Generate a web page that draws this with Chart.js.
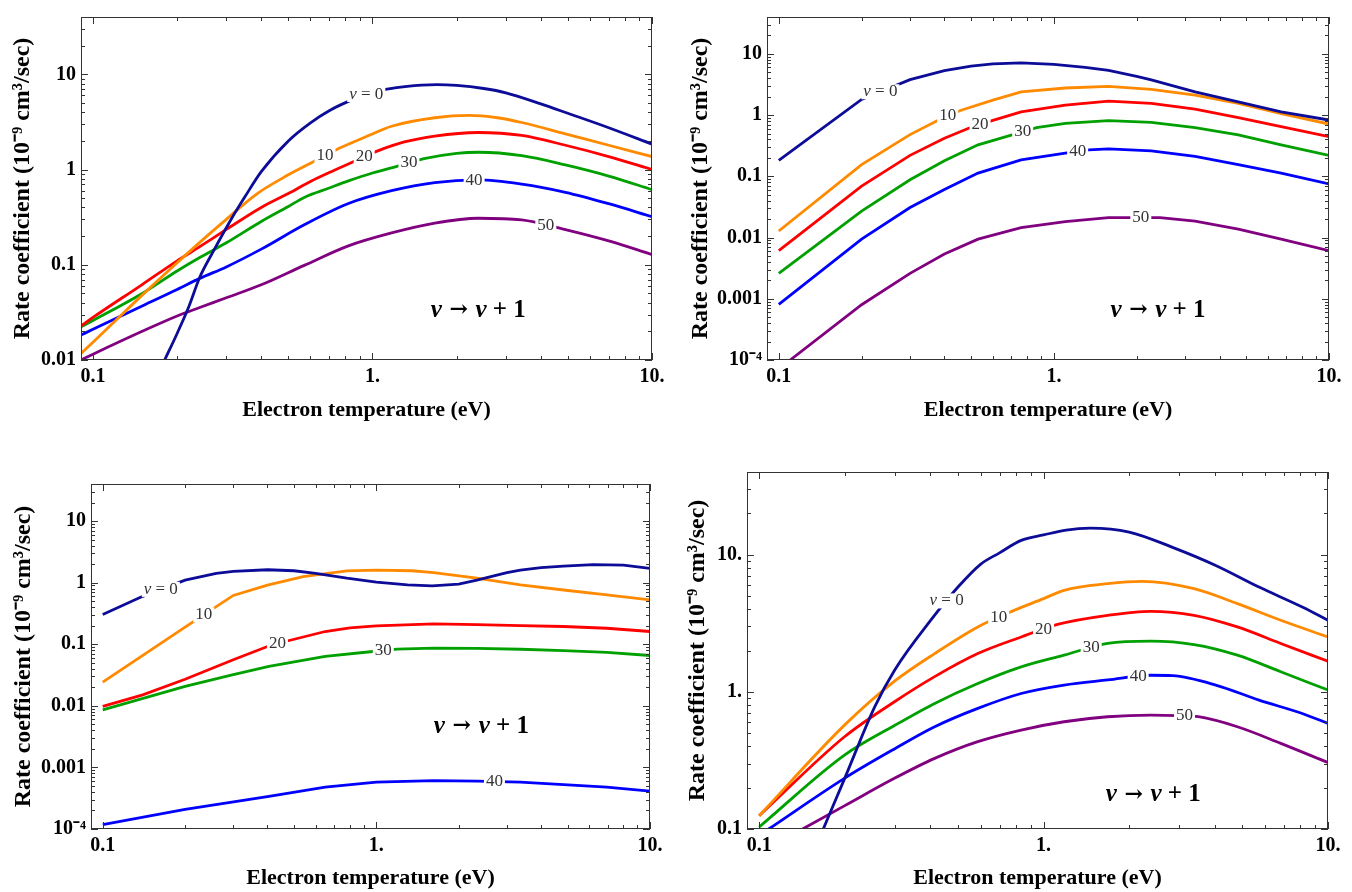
<!DOCTYPE html>
<html><head><meta charset="utf-8">
<script src="https://cdn.jsdelivr.net/npm/chart.js@4.4.1/dist/chart.umd.min.js"></script>
<style>
html,body{margin:0;padding:0;background:#fff;}
body{width:1352px;height:892px;position:relative;overflow:hidden;}
.pane{position:absolute;width:676px;height:446px;}
canvas{display:block;}
</style></head><body>
<div class="pane" style="left:0;top:0"><canvas id="c1" width="676" height="446"></canvas></div>
<div class="pane" style="left:676px;top:0"><canvas id="c2" width="676" height="446"></canvas></div>
<div class="pane" style="left:0;top:446px"><canvas id="c3" width="676" height="446"></canvas></div>
<div class="pane" style="left:676px;top:446px"><canvas id="c4" width="676" height="446"></canvas></div>
<script>
// ---------- tick labels ----------
const xTickValues = [0.1, 1, 10];
const xTickLabels = ['0.1', '1.', '10.'];
const yTicksA = [0.01, 0.1, 1, 10];
const yLabelsA = ['0.01', '0.1', '1', '10'];
const yTicksB = [1e-4, 1e-3, 0.01, 0.1, 1, 10];
const yLabelsB = ['10\u207B\u2074', '0.001', '0.01', '0.1', '1', '10'];
const yTicksC = [0.1, 1, 10];
const yLabelsC = ['0.1', '1.', '10.'];
const curveNames = ['v = 0', '10', '20', '30', '40', '50'];
const xTitle = 'Electron temperature (eV)';
const yTitle = 'Rate coefficient (10\u207B\u2079 cm\u00B3/sec)';

// ---------- panel 1 (top left): [T (eV), k] ----------
const p1_v0 = [[0.1805,0.01],[0.2,0.019],[0.22,0.036],[0.241,0.074],[0.27,0.14],[0.31,0.29],[0.35,0.52],[0.4,0.95],[0.5,2.0],[0.6,3.1],[0.7,4.15],[0.82,5.2],[1.0,6.5],[1.2,7.2],[1.5,7.7],[1.7,7.8],[2.0,7.65],[2.5,7.1],[3.0,6.4],[4.0,4.9],[5.0,3.9],[7.0,2.75],[10,1.85]];
const p1_v10 = [[0.0906,0.0117],[0.1,0.0154],[0.12,0.0257],[0.15,0.048],[0.2,0.105],[0.241,0.172],[0.3,0.3],[0.384,0.55],[0.5,0.88],[0.612,1.2],[0.76,1.67],[0.95,2.22],[1.17,2.85],[1.67,3.5],[2.22,3.71],[2.8,3.5],[3.42,3.12],[4.9,2.37],[7.0,1.8],[10,1.37]];
const p1_v20 = [[0.0906,0.0228],[0.1,0.028],[0.15,0.062],[0.2,0.11],[0.241,0.155],[0.3,0.235],[0.4,0.4],[0.5,0.56],[0.6,0.75],[0.7,0.93],[0.85,1.2],[1.05,1.58],[1.3,1.95],[1.67,2.25],[2.39,2.45],[3.42,2.28],[4.9,1.8],[7.0,1.37],[10,1.0]];
const p1_v30 = [[0.0906,0.0223],[0.1,0.026],[0.15,0.05],[0.2,0.086],[0.241,0.119],[0.3,0.17],[0.4,0.285],[0.5,0.41],[0.57,0.51],[0.7,0.64],[0.82,0.76],[1.0,0.92],[1.25,1.1],[1.53,1.3],[2.0,1.48],[2.4,1.52],[3.42,1.4],[4.9,1.12],[7.0,0.855],[10,0.615]];
const p1_v40 = [[0.0906,0.0183],[0.1,0.021],[0.15,0.037],[0.2,0.055],[0.241,0.072],[0.3,0.095],[0.4,0.146],[0.57,0.263],[0.82,0.44],[1.17,0.6],[1.67,0.73],[2.39,0.778],[3.42,0.703],[4.9,0.577],[7.0,0.438],[10,0.32]];
const p1_v50 = [[0.0906,0.01],[0.1,0.0115],[0.15,0.02],[0.2,0.029],[0.241,0.0356],[0.3,0.045],[0.4,0.0616],[0.57,0.0986],[0.82,0.158],[1.17,0.216],[1.67,0.274],[2.39,0.308],[3.42,0.296],[4.9,0.234],[7.0,0.178],[10,0.128]];

// ---------- panel 2 (top right) ----------
const p2_v0 = [[0.1,0.182],[0.2,1.8],[0.3,3.8],[0.4,5.3],[0.5,6.3],[0.6,6.85],[0.76,7.15],[1.0,6.75],[1.3,6.0],[1.58,5.37],[2.0,4.3],[2.26,3.75],[3.26,2.39],[4.68,1.64],[6.7,1.13],[10,0.83]];
const p2_v10 = [[0.1,0.0128],[0.2,0.155],[0.3,0.48],[0.4,0.93],[0.46,1.2],[0.6,1.75],[0.76,2.39],[1.1,2.77],[1.58,2.95],[2.26,2.64],[3.26,2.11],[4.68,1.55],[6.7,1.06],[10,0.715]];
const p2_v20 = [[0.1,0.0061],[0.2,0.069],[0.3,0.22],[0.4,0.42],[0.49,0.61],[0.6,0.82],[0.76,1.13],[1.1,1.45],[1.58,1.69],[2.26,1.55],[3.26,1.25],[4.68,0.905],[6.7,0.647],[10,0.445]];
const p2_v30 = [[0.1,0.0026],[0.2,0.027],[0.3,0.088],[0.4,0.18],[0.53,0.327],[0.7,0.47],[0.865,0.623],[1.1,0.733],[1.58,0.81],[2.26,0.76],[3.26,0.623],[4.68,0.474],[6.7,0.327],[10,0.219]];
const p2_v40 = [[0.1,0.00081],[0.2,0.0094],[0.3,0.031],[0.4,0.061],[0.53,0.113],[0.76,0.186],[1.1,0.239],[1.34,0.27],[1.58,0.281],[2.26,0.261],[3.26,0.211],[4.68,0.155],[6.7,0.113],[10,0.075]];
const p2_v50 = [[0.11,0.0001],[0.2,0.0008],[0.3,0.0026],[0.4,0.0054],[0.53,0.0094],[0.76,0.0145],[1.1,0.0182],[1.58,0.0211],[2.43,0.0211],[3.26,0.0186],[4.68,0.0137],[6.7,0.0094],[10,0.0061]];

// ---------- panel 3 (bottom left) ----------
const p3_v0 = [[0.1,0.305],[0.14,0.6],[0.2,1.1],[0.26,1.42],[0.3,1.52],[0.4,1.62],[0.5,1.56],[0.6,1.42],[0.78,1.18],[1.0,1.02],[1.3,0.92],[1.6,0.885],[2.0,0.95],[2.33,1.1],[3.0,1.45],[3.36,1.6],[4.0,1.76],[4.83,1.86],[6.2,1.97],[8.0,1.93],[10,1.71]];
const p3_v10 = [[0.1,0.0243],[0.2,0.19],[0.3,0.62],[0.4,0.91],[0.54,1.25],[0.78,1.55],[1.0,1.6],[1.35,1.56],[1.62,1.45],[2.33,1.18],[3.36,0.917],[4.83,0.76],[6.95,0.631],[10,0.524]];
const p3_v20 = [[0.1,0.0098],[0.14,0.0151],[0.2,0.027],[0.3,0.056],[0.4,0.092],[0.48,0.115],[0.65,0.161],[0.8,0.185],[1.0,0.199],[1.62,0.214],[2.33,0.209],[3.36,0.2],[4.83,0.194],[6.95,0.182],[10,0.161]];
const p3_v30 = [[0.1,0.0086],[0.2,0.0207],[0.3,0.032],[0.405,0.0436],[0.65,0.0633],[0.97,0.0762],[1.19,0.0832],[1.62,0.0863],[2.33,0.086],[3.36,0.083],[4.83,0.079],[6.95,0.074],[10,0.0657]];
const p3_v40 = [[0.1,0.000118],[0.2,0.000208],[0.405,0.00034],[0.65,0.00048],[1.0,0.000575],[1.62,0.000612],[2.33,0.0006],[3.36,0.000575],[4.83,0.000527],[6.95,0.00048],[10,0.000411]];

// ---------- panel 4 (bottom right) ----------
const p4_v0 = [[0.168,0.1],[0.2,0.235],[0.255,0.78],[0.3,1.45],[0.4,3.3],[0.5,5.8],[0.6,8.5],[0.7,10.3],[0.834,12.7],[1.0,13.9],[1.2,15.1],[1.46,15.6],[2.0,14.6],[2.84,11.3],[4.03,8.34],[5.72,5.8],[8.12,4.15],[10,3.32]];
const p4_v10 = [[0.1,0.125],[0.2,0.574],[0.3,1.2],[0.414,1.9],[0.587,2.97],[0.764,3.82],[1.0,4.78],[1.18,5.49],[1.68,6.14],[2.22,6.38],[3.38,5.64],[4.8,4.39],[6.82,3.32],[10,2.51]];
const p4_v20 = [[0.1,0.125],[0.2,0.472],[0.3,0.85],[0.414,1.29],[0.587,1.9],[0.834,2.51],[1.12,3.1],[1.68,3.61],[2.38,3.86],[3.38,3.61],[4.8,2.97],[6.82,2.25],[10,1.67]];
const p4_v30 = [[0.1,0.1035],[0.2,0.347],[0.3,0.57],[0.414,0.823],[0.587,1.15],[0.834,1.52],[1.18,1.85],[1.68,2.25],[2.38,2.34],[3.38,2.21],[4.8,1.85],[6.82,1.4],[10,1.03]];
const p4_v40 = [[0.108,0.1],[0.2,0.235],[0.3,0.385],[0.414,0.556],[0.587,0.757],[0.834,0.972],[1.18,1.12],[1.68,1.22],[2.38,1.32],[2.84,1.31],[4.03,1.12],[5.72,0.87],[8.12,0.695],[10,0.588]];
const p4_v50 = [[0.142,0.1],[0.2,0.148],[0.3,0.235],[0.414,0.327],[0.587,0.433],[0.834,0.526],[1.18,0.605],[1.68,0.658],[2.38,0.677],[3.0,0.67],[3.5,0.658],[4.8,0.556],[6.82,0.421],[10,0.305]];

// ---------- styles ----------
const COLORS = ['#0c0c98', '#ff8a00', '#ff0000', '#00a000', '#0000ff', '#800080'];
const SERIF = '"Liberation Serif", "Times New Roman", serif';

function logTicks(min, max) {
  const out = [];
  for (let e = Math.floor(Math.log10(min)) - 1; e <= Math.ceil(Math.log10(max)); e++) {
    for (let m = 1; m <= 9; m++) {
      const v = m * Math.pow(10, e);
      if (v >= min * 0.999 && v <= max * 1.001) out.push({v: v, major: m === 1});
    }
  }
  return out;
}
function interpLog(series, x) {
  for (let i = 0; i < series.length - 1; i++) {
    const [x0, y0] = series[i], [x1, y1] = series[i + 1];
    if (x >= x0 && x <= x1) {
      const f = (Math.log(x) - Math.log(x0)) / (Math.log(x1) - Math.log(x0));
      return Math.exp(Math.log(y0) + f * (Math.log(y1) - Math.log(y0)));
    }
  }
  return series[series.length - 1][1];
}
function drawRich(ctx, parts, cx, cy, bg) {
  let w = 0;
  parts.forEach(p => { ctx.font = p.f; w += ctx.measureText(p.t).width; });
  if (bg) { ctx.fillStyle = '#fff'; ctx.fillRect(cx - w / 2 - 2, cy - bg / 2, w + 4, bg); }
  let x = cx - w / 2;
  ctx.textAlign = 'left'; ctx.textBaseline = 'middle';
  parts.forEach(p => { ctx.font = p.f; ctx.fillStyle = p.c; ctx.fillText(p.t, x, cy); x += ctx.measureText(p.t).width; });
}

function makePanel(id, cfg) {
  const framePlugin = {
    id: 'frame' + id,
    afterDatasetsDraw(chart) {
      const {ctx, chartArea: a, scales: {x, y}} = chart;
      ctx.save();
      // curve labels (with white gap)
      cfg.series.forEach((s, i) => {
        const lx = cfg.labelX[i];
        if (lx == null) return;
        const px = x.getPixelForValue(lx), py = y.getPixelForValue(interpLog(s, lx));
        const name = cfg.names[i];
        let parts;
        if (name.startsWith('v')) parts = [{t: 'v', f: 'italic 17px ' + SERIF, c: '#333'}, {t: name.slice(1), f: '17px ' + SERIF, c: '#333'}];
        else parts = [{t: name, f: '17px ' + SERIF, c: '#333'}];
        drawRich(ctx, parts, px, py, 15);
      });
      // annotation v -> v + 1
      const nx = x.getPixelForValue(cfg.note[0]), ny = y.getPixelForValue(cfg.note[1]);
      drawRich(ctx, [
        {t: 'v', f: 'italic bold 25px ' + SERIF, c: '#000'},
        {t: ' \u2192 ', f: 'bold 22px "DejaVu Serif", serif', c: '#000'},
        {t: 'v', f: 'italic bold 25px ' + SERIF, c: '#000'},
        {t: ' + 1', f: 'bold 25px ' + SERIF, c: '#000'}], nx, ny, 0);
      // frame + inward ticks on all sides
      ctx.strokeStyle = '#333'; ctx.lineWidth = 1;
      ctx.beginPath();
      logTicks(x.min, x.max).forEach(t => {
        const p = Math.round(x.getPixelForValue(t.v)) + 0.5, L = t.major ? 7 : 4;
        ctx.moveTo(p, a.bottom); ctx.lineTo(p, a.bottom - L);
        ctx.moveTo(p, a.top); ctx.lineTo(p, a.top + L);
      });
      logTicks(y.min, y.max).forEach(t => {
        const p = Math.round(y.getPixelForValue(t.v)) + 0.5, L = t.major ? 7 : 4;
        ctx.moveTo(a.left, p); ctx.lineTo(a.left + L, p);
        ctx.moveTo(a.right, p); ctx.lineTo(a.right - L, p);
      });
      ctx.stroke();
      ctx.strokeRect(Math.round(a.left) + 0.5, Math.round(a.top) + 0.5, Math.round(a.right - a.left) - 1, Math.round(a.bottom - a.top) - 1);
      ctx.restore();
    }
  };
  const tickFont = {family: SERIF, weight: 'bold', size: 20};
  const xTitleFont = {family: SERIF, weight: 'bold', size: 22};
  const yTitleFont = {family: SERIF, weight: 'bold', size: 24};
  return new Chart(document.getElementById(id), {
    type: 'line',
    data: {
      datasets: cfg.series.map((s, i) => ({
        data: s.map(([t, k]) => ({x: t, y: k})),
        borderColor: cfg.colors[i],
        borderWidth: 2.8,
        pointRadius: 0,
        fill: false,
        tension: 0,
        cubicInterpolationMode: cfg.smooth ? 'monotone' : 'default',
        clip: 0
      }))
    },
    options: {
      responsive: false, animation: false, events: [],
      layout: {padding: {top: cfg.T, right: cfg.R, left: 0, bottom: 0}},
      plugins: {legend: {display: false}, tooltip: {enabled: false}, title: {display: false}},
      scales: {
        x: {
          type: 'logarithmic', position: 'bottom', min: 0.0906, max: 10, bounds: 'data',
          afterBuildTicks: s => { s.ticks = xTickValues.map(v => ({value: v})); },
          afterFit: s => { s.height = cfg.B; },
          grid: {display: false, drawTicks: false}, border: {display: false},
          ticks: {callback: v => xTickLabels[xTickValues.indexOf(v)] ?? '', font: tickFont, color: '#000', padding: 5, maxRotation: 0, autoSkip: false},
          title: {display: true, text: xTitle, font: xTitleFont, color: '#000', padding: {top: 0, bottom: cfg.xtPad}}
        },
        y: {
          type: 'logarithmic', position: 'left', min: cfg.yMin, max: 40, bounds: 'data',
          afterBuildTicks: s => { s.ticks = cfg.yTicks.map(v => ({value: v})); },
          afterFit: s => { s.width = cfg.L; },
          grid: {display: false, drawTicks: false}, border: {display: false},
          ticks: {callback: v => cfg.yLabels[cfg.yTicks.indexOf(v)] ?? '', font: tickFont, color: '#000', padding: 5, autoSkip: false},
          title: {display: true, text: yTitle, font: yTitleFont, color: '#000', padding: {top: cfg.ytPad, bottom: 0}}
        }
      }
    },
    plugins: [framePlugin]
  });
}

makePanel('c1', {
  series: [p1_v0, p1_v10, p1_v20, p1_v30, p1_v40, p1_v50], colors: COLORS, names: curveNames,
  labelX: [0.95, 0.676, 0.934, 1.35, 2.31, 4.17], note: [2.39, 0.0334],
  yMin: 0.01, yTicks: yTicksA, yLabels: yLabelsA, smooth: true,
  L: 81, R: 24, T: 9, B: 86, ytPad: 8, xtPad: 22
});
makePanel('c2', {
  series: [p2_v0, p2_v10, p2_v20, p2_v30, p2_v40, p2_v50], colors: COLORS, names: curveNames,
  labelX: [0.234, 0.411, 0.539, 0.77, 1.22, 2.07], note: [2.39, 0.00065],
  yMin: 1e-4, yTicks: yTicksB, yLabels: yLabelsB, smooth: false,
  L: 91, R: 23, T: 14, B: 86, ytPad: 10, xtPad: 22
});
makePanel('c3', {
  series: [p3_v0, p3_v10, p3_v20, p3_v30, p3_v40], colors: COLORS.slice(0, 5), names: curveNames.slice(0, 5),
  labelX: [0.163, 0.234, 0.435, 1.06, 2.7], note: [2.42, 0.00465],
  yMin: 1e-4, yTicks: yTicksB, yLabels: yLabelsB, smooth: false,
  L: 91, R: 26, T: 38, B: 63, ytPad: 9, xtPad: 0
});
makePanel('c4', {
  series: [p4_v0, p4_v10, p4_v20, p4_v30, p4_v40, p4_v50], colors: COLORS, names: curveNames,
  labelX: [0.456, 0.695, 1.0, 1.47, 2.15, 3.13], note: [2.43, 0.177],
  yMin: 0.1, yTicks: yTicksC, yLabels: yLabelsC, smooth: true,
  L: 71, R: 24, T: 26, B: 63, ytPad: 7, xtPad: 0
});
</script>
</body></html>
